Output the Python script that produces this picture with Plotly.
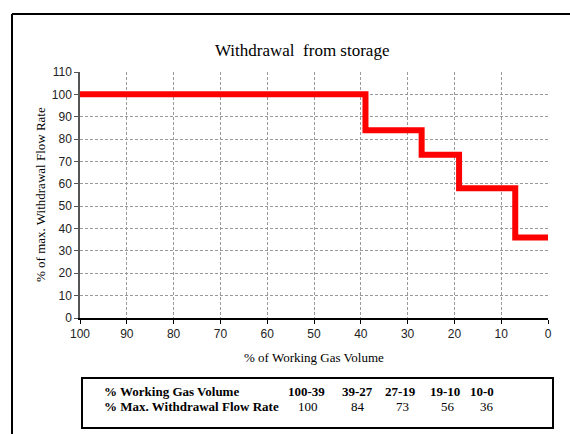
import plotly.graph_objects as go

# Data
gas_volume_steps = [100, 39, 27, 19, 7, 0]
flow_rate_steps = [100, 84, 73, 58, 36, 36]

table_ranges = ["100-39", "39-27", "27-19", "19-10", "10-0"]
table_rates = [100, 84, 73, 56, 36]

W, H = 570, 434
L, R, T, B = 80, 548, 72, 318  # plot area pixels


def px(x):
    return (x - L) / (R - L)


def py(y):
    return (B - y) / (B - T)


fig = go.Figure()
fig.add_trace(go.Scatter(
    x=gas_volume_steps, y=flow_rate_steps, mode="lines",
    line=dict(color="#ff0000", width=6, shape="hv"),
    showlegend=False, hoverinfo="skip",
))

serif = "Liberation Serif, Times New Roman, serif"
sans = "Liberation Sans, Arial, sans-serif"

fig.update_layout(
    width=W, height=H,
    margin=dict(l=L, r=W - R, t=T, b=H - B),
    paper_bgcolor="white", plot_bgcolor="white",
    xaxis=dict(
        range=[100, 0], dtick=10, tick0=0,
        showgrid=True, gridcolor="#9a9a9a", gridwidth=1, griddash="3px,2px",
        showline=True, linecolor="black", linewidth=1.5,
        ticks="outside", ticklen=4, tickcolor="black",
        tickfont=dict(family=sans, size=12, color="#222"),
        zeroline=False,
    ),
    yaxis=dict(
        range=[0, 110], dtick=10, tick0=0,
        showgrid=True, gridcolor="#9a9a9a", gridwidth=1, griddash="3px,2px",
        showline=True, linecolor="#555", linewidth=1.5,
        ticks="outside", ticklen=4, tickcolor="#555",
        tickfont=dict(family=sans, size=12, color="#222"),
        zeroline=False,
    ),
)

TS = 13
ROW1, ROW2 = 391, 406
annotations = [
    dict(text="Withdrawal\u00a0 from storage", x=px(302), y=py(50),
         font=dict(family=serif, size=17, color="black")),
    dict(text="% of Working Gas Volume", x=px(314), y=py(357),
         font=dict(family=serif, size=13, color="black")),
    dict(text="% of max. Withdrawal Flow Rate", x=px(40), y=py(195), textangle=-90,
         font=dict(family=serif, size=13, color="black")),
    dict(text="<b>% Working Gas Volume</b>", x=px(103), y=py(ROW1), xanchor="left",
         font=dict(family=serif, size=TS, color="black")),
    dict(text="<b>% Max. Withdrawal Flow Rate</b>", x=px(103), y=py(ROW2), xanchor="left",
         font=dict(family=serif, size=TS, color="black")),
]
for a in annotations:
    a.setdefault("xanchor", "center")
    a.update(xref="paper", yref="paper", yanchor="middle", showarrow=False, borderpad=0)

head_x = [306, 357, 400, 445, 482]
val_x = [308, 358, 402, 448, 487]
for rng, hx in zip(table_ranges, head_x):
    annotations.append(dict(text=f"<b>{rng}</b>", x=px(hx), y=py(ROW1), xref="paper", yref="paper",
                            xanchor="center", yanchor="middle", showarrow=False, borderpad=0,
                            font=dict(family=serif, size=TS, color="black")))
for v, vx in zip(table_rates, val_x):
    annotations.append(dict(text=str(v), x=px(vx), y=py(ROW2), xref="paper", yref="paper",
                            xanchor="center", yanchor="middle", showarrow=False, borderpad=0,
                            font=dict(family=serif, size=TS, color="black")))
fig.update_layout(annotations=annotations)

shapes = [
    # outer frame (left and top edges visible)
    dict(type="line", xref="paper", yref="paper", x0=px(12), y0=py(14), x1=px(572), y1=py(14),
         line=dict(color="black", width=2)),
    dict(type="line", xref="paper", yref="paper", x0=px(12), y0=py(14), x1=px(12), y1=py(436),
         line=dict(color="black", width=2)),
    # table box
    dict(type="rect", xref="paper", yref="paper", x0=px(82), y0=py(428), x1=px(553), y1=py(378),
         line=dict(color="black", width=2), fillcolor="rgba(0,0,0,0)"),
]
fig.update_layout(shapes=shapes)

fig.write_html("out.html", config={"displayModeBar": False},
               post_script="document.body.style.margin='0';document.body.style.overflow='hidden';")
